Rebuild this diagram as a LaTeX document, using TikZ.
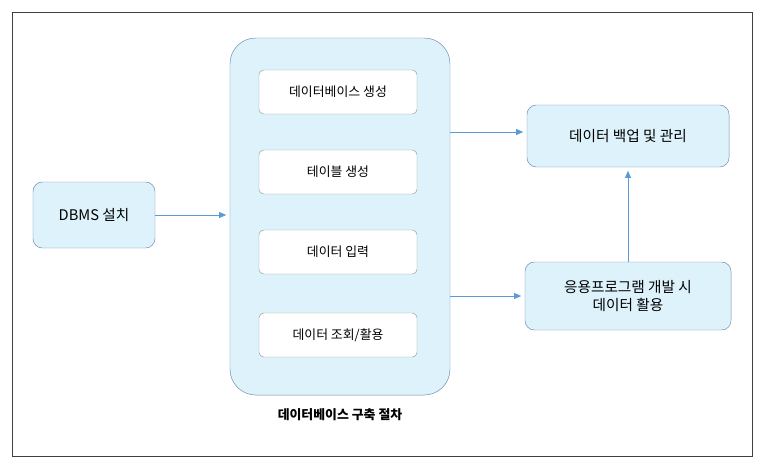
\documentclass[tikz,border=0pt]{standalone}
\usepackage{fontspec}
\setmainfont{Noto Sans CJK KR}
\definecolor{boxblue}{HTML}{DDF2FB}
\definecolor{edgegray}{HTML}{6F89A8}
\definecolor{arrblue}{HTML}{5B9BD5}
\usetikzlibrary{arrows.meta, positioning}

\begin{document}
\begin{tikzpicture}[
        x=0.03cm, y=-0.03cm,
        box/.style={draw=edgegray, fill=boxblue, rounded corners=8pt,
                     font=\fontsize{12.5}{16}\selectfont, align=center, inner sep=0pt},
        stage/.style={draw=gray!80, fill=white, rounded corners=4pt,
                     minimum width=4.74cm, minimum height=1.32cm,
                     font=\fontsize{11}{13}\selectfont, inner sep=0pt},
        arr/.style={-{Triangle[length=6pt,width=5pt]}, arrblue, thick, shorten >=3pt}
      ]
        \useasboundingbox (0,0) rectangle (764,469);
        \draw[black!75] (12,12) rectangle (752,456);

        \node[box, minimum width=3.66cm, minimum height=1.98cm] (dbms) at (94,215) {DBMS 설치};
        \node[box, rounded corners=22pt, minimum width=6.6cm, minimum height=10.71cm] (proc) at (340,216.5) {};
        \node[stage] (s1) at (338,92) {데이터베이스 생성};
        \node[stage] (s2) at (338,172) {테이블 생성};
        \node[stage] (s3) at (338,252) {데이터 입력};
        \node[stage] (s4) at (338,335) {데이터 조회/활용};
        \node[font=\fontsize{11}{13}\selectfont\bfseries] (cap) at (340,415) {데이터베이스 구축 절차};

        \node[box, minimum width=6.06cm, minimum height=1.86cm] (backup) at (628,136) {데이터 백업 및 관리};
        \node[box, minimum width=6.18cm, minimum height=2.04cm] (app) at (628,296) {응용프로그램 개발 시\\데이터 활용};

        \draw[arr] (dbms) -- (proc.west |- dbms);
        \draw[arr] (proc.east |- backup.west) ++(0,-4) coordinate (p1) -- (backup.west |- p1);
        \draw[arr] (proc.east |- app.west) coordinate (p2) -- (app.west |- p2);
        \draw[arr] (app) -- (backup);
      \end{tikzpicture}
\end{document}
